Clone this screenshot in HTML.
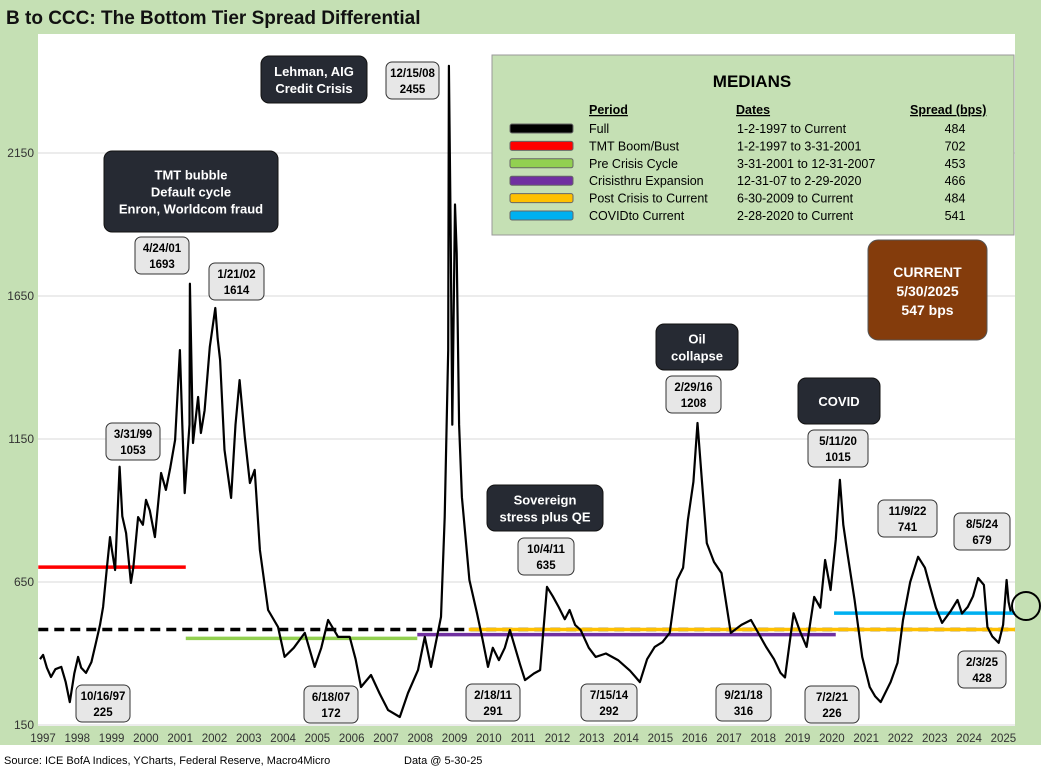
<!DOCTYPE html>
<html><head><meta charset="utf-8"><style>
body{margin:0;width:1041px;height:775px;background:#fff;font-family:"Liberation Sans",sans-serif;overflow:hidden}
</style></head><body>
<svg id="chart" width="1041" height="775" xmlns="http://www.w3.org/2000/svg" font-family="Liberation Sans, sans-serif">
<rect x="0" y="0" width="1041" height="745" fill="#c5e0b4"/>
<rect x="38" y="34" width="977" height="692" fill="#fff"/>
<text x="6" y="24" font-size="19" font-weight="bold" fill="#111">B to CCC: The Bottom Tier Spread Differential</text>
<g id="grid"></g><g id="yticks"></g><g id="xticks"></g><g id="medians"></g>
<path id="series" fill="none" stroke="#000" stroke-width="2.2" stroke-linejoin="round"/>
<g id="legend">
<rect x="492" y="55" width="522" height="180" fill="#c5e0b4" stroke="#999"/>
<text x="752" y="87" font-size="17" font-weight="bold" text-anchor="middle">MEDIANS</text>
<g font-size="12.5" font-weight="bold" text-decoration="underline"><text x="589" y="114">Period</text><text x="736" y="114">Dates</text><text x="910" y="114">Spread (bps)</text></g>
<g font-size="12.5" id="legrows"></g>
</g>
<text x="4" y="764" font-size="11">Source: ICE BofA Indices, YCharts, Federal Reserve, Macro4Micro</text>
<text x="404" y="764" font-size="11">Data @ 5-30-25</text>
<circle cx="1026" cy="606" r="14" fill="none" stroke="#000" stroke-width="2"/>
<g id="ann"></g>
</svg>
<script>
const yTicks=[150,650,1150,1650,2150];
const years=[1997,1998,1999,2000,2001,2002,2003,2004,2005,2006,2007,2008,2009,2010,2011,2012,2013,2014,2015,2016,2017,2018,2019,2020,2021,2022,2023,2024,2025];
const dates=[1997.0,1997.09,1997.2,1997.32,1997.45,1997.62,1997.75,1997.87,1998.0,1998.11,1998.2,1998.34,1998.5,1998.63,1998.75,1998.84,1998.95,1999.04,1999.1,1999.19,1999.32,1999.4,1999.51,1999.65,1999.72,1999.86,2000.0,2000.09,2000.2,2000.35,2000.53,2000.67,2000.8,2000.94,2001.08,2001.15,2001.22,2001.36,2001.37,2001.46,2001.61,2001.69,2001.8,2001.95,2002.11,2002.18,2002.25,2002.38,2002.45,2002.57,2002.7,2002.82,2002.97,2003.12,2003.26,2003.41,2003.65,2003.94,2004.13,2004.4,2004.72,2005.01,2005.2,2005.4,2005.69,2006.03,2006.2,2006.36,2006.65,2006.9,2007.15,2007.49,2007.73,2008.02,2008.22,2008.4,2008.69,2008.8,2008.9,2008.92,2008.97,2009.02,2009.1,2009.15,2009.22,2009.3,2009.52,2009.74,2009.9,2010.06,2010.2,2010.38,2010.55,2010.7,2011.0,2011.14,2011.4,2011.58,2011.78,2011.95,2012.12,2012.3,2012.44,2012.6,2012.76,2013.0,2013.2,2013.5,2013.85,2014.2,2014.49,2014.7,2014.92,2015.15,2015.36,2015.57,2015.75,2015.89,2016.05,2016.17,2016.3,2016.44,2016.65,2016.87,2017.14,2017.45,2017.73,2017.95,2018.17,2018.4,2018.59,2018.72,2018.97,2019.15,2019.35,2019.57,2019.75,2019.89,2020.05,2020.2,2020.32,2020.42,2020.54,2020.75,2020.97,2021.19,2021.35,2021.51,2021.8,2022.0,2022.16,2022.37,2022.6,2022.8,2022.95,2023.12,2023.3,2023.56,2023.75,2023.88,2024.05,2024.2,2024.35,2024.52,2024.62,2024.76,2024.95,2025.08,2025.18,2025.24,2025.3,2025.41];
const spreads=[380,395,350,318,345,353,300,230,330,388,350,332,370,437,500,563,700,807,760,692,1053,880,821,647,700,877,850,937,900,807,1031,972,1050,1147,1461,1200,961,1200,1693,1136,1297,1171,1250,1472,1608,1500,1426,1112,1050,944,1200,1356,1157,996,1042,762,552,493,388,420,472,353,420,517,458,458,380,283,325,260,202,178,262,342,458,353,528,877,1461,2455,1900,1200,1970,1800,1200,947,657,541,450,353,420,377,420,482,360,307,330,342,633,600,563,520,552,500,482,420,388,400,377,340,300,380,423,440,472,657,700,867,1000,1206,1000,786,720,681,472,500,517,470,423,380,332,316,541,480,423,598,560,727,622,800,1007,850,751,587,388,283,250,230,300,367,517,650,738,700,633,560,507,550,587,540,563,600,664,640,493,460,437,500,657,580,547];
const medPeriods=["Full","TMT  Boom/Bust","Pre Crisis Cycle","Crisisthru Expansion","Post Crisis to Current","COVIDto Current"];
const medDates=["1-2-1997  to Current","1-2-1997  to 3-31-2001","3-31-2001  to 12-31-2007","12-31-07  to 2-29-2020","6-30-2009  to Current","2-28-2020  to Current"];
const medValues=[484,702,453,466,484,541];
const medStart=[1996.95,1996.95,2001.25,2008.0,2009.5,2020.15];
const medEnd=[2025.45,2001.25,2008.0,2020.2,2025.45,2025.45];
const medColors=["#000","#ff0000","#92d050","#7030a0","#ffc000","#00b0f0"];
const X=t=>40+(t-1997)*34.3, Y=v=>725-(v-150)*0.286;
const NS="http://www.w3.org/2000/svg";
function mk(tag,attrs,parent,txt){const e=document.createElementNS(NS,tag);for(const k in attrs)e.setAttribute(k,attrs[k]);if(txt!==undefined)e.textContent=txt;document.getElementById(parent).appendChild(e);return e;}
yTicks.forEach(v=>{
 const g=mk('line',{x1:38,x2:1015,y1:Y(v),y2:Y(v),stroke:'#d9d9d9'},'grid');
 
 
 const t=mk('text',{x:34,y:Y(v)+4,'font-size':12,'text-anchor':'end',fill:'#333'},'yticks',v);
 
 
});
years.forEach(yr=>{
 const t=mk('text',{x:X(yr)+3,y:742,'font-size':11.5,'text-anchor':'middle',fill:'#333'},'xticks',yr);
 
 
});
medValues.forEach((v,i)=>{
 const l=mk('line',{x1:Math.max(38,X(medStart[i])),x2:Math.min(1015,X(medEnd[i])),y1:Y(v),y2:Y(v),stroke:medColors[i],'stroke-width':3.5},'medians');
 if(i===0)l.setAttribute('stroke-dasharray','10,6');
 
 
 const y0=128+i*17.4;
 const s=mk('rect',{x:510,y:y0-4,width:63,height:9,rx:2,fill:medColors[i],stroke:'#666'},'legrows');
 
 
 const a=mk('text',{x:589,y:y0+5},'legrows',medPeriods[i]);
 
 
 const b=mk('text',{x:737,y:y0+5},'legrows',medDates[i]);
 
 
 const c=mk('text',{x:955,y:y0+5,'text-anchor':'middle'},'legrows',medValues[i]);
 
 
});
document.getElementById('series').setAttribute('d',dates.map((d,i)=>(i?'L':'M')+X(d).toFixed(1)+','+Y(spreads[i]).toFixed(1)).join(''));
const labels=[[106,423,54,"3/31/99","1053"],[135,237,54,"4/24/01","1693"],[209,263,55,"1/21/02","1614"],[386,62,53,"12/15/08","2455"],[76,685,54,"10/16/97","225"],[304,686,54,"6/18/07","172"],[466,684,54,"2/18/11","291"],[518,538,56,"10/4/11","635"],[581,684,56,"7/15/14","292"],[666,376,55,"2/29/16","1208"],[716,684,55,"9/21/18","316"],[805,686,54,"7/2/21","226"],[808,430,60,"5/11/20","1015"],[878,500,59,"11/9/22","741"],[954,513,56,"8/5/24","679"],[958,651,48,"2/3/25","428"]];
labels.forEach(l=>{
 const r=mk('rect',{x:l[0],y:l[1],width:l[2],height:37,rx:6,fill:'#e7e7e7',stroke:'#333'},'ann');
 
 
 mk('text',{x:l[0]+l[2]/2,y:l[1]+15,'font-size':11.5,'font-weight':'bold','text-anchor':'middle'},'ann',l[3]);
 mk('text',{x:l[0]+l[2]/2,y:l[1]+31,'font-size':11.5,'font-weight':'bold','text-anchor':'middle'},'ann',l[4]);
});
const dark=[[261,56,106,47,["Lehman, AIG","Credit Crisis"]],[104,151,174,81,["TMT bubble","Default cycle","Enron, Worldcom fraud"]],[656,324,82,46,["Oil","collapse"]],[798,378,82,46,["COVID"]],[487,485,116,46,["Sovereign","stress plus QE"]]];
dark.forEach(d=>{
 const r=mk('rect',{x:d[0],y:d[1],width:d[2],height:d[3],rx:8,fill:'#262a33',stroke:'#111'},'ann');
 
 
 const n=d[4].length, cy=d[1]+d[3]/2;
 d[4].forEach((s,i)=>mk('text',{x:d[0]+d[2]/2,y:cy+(i-(n-1)/2)*17+5,'font-size':13,'font-weight':'bold',fill:'#fff','text-anchor':'middle'},'ann',s));
});
const cur=mk('rect',{x:868,y:240,width:119,height:100,rx:10,fill:'#843c0c',stroke:'#555'},'ann');


["CURRENT","5/30/2025","547 bps"].forEach((s,i)=>mk('text',{x:927.5,y:277+i*19,'font-size':14,'font-weight':'bold',fill:'#fff','text-anchor':'middle'},'ann',s));
</script>
</body></html>
